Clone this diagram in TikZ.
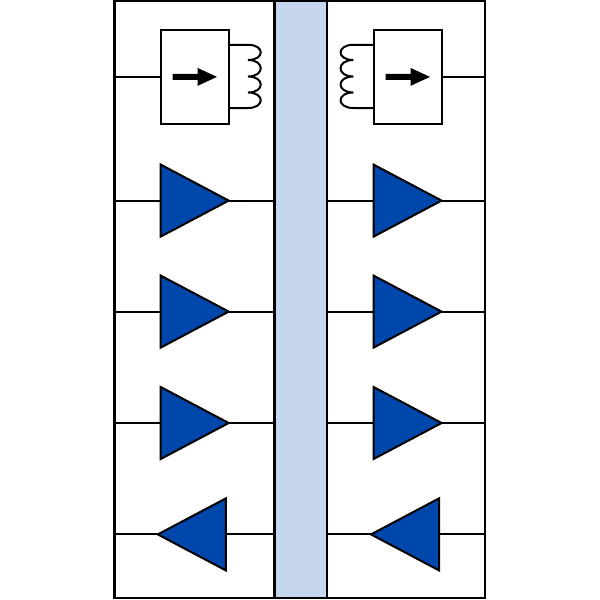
\documentclass[tikz,border=0pt]{standalone}
\usetikzlibrary{shapes.geometric}
\definecolor{bandblue}{HTML}{C6D6EE}
\definecolor{ampblue}{HTML}{0047AB}
\tikzset{
  wire/.style={draw=black,line width=2pt},
  frame/.style={draw=black,line width=2.4pt,fill=white,rectangle,inner sep=0pt,outer sep=0pt,minimum width=370.5pt,minimum height=597pt},
  band/.style={draw=black,line width=2.4pt,fill=bandblue,rectangle,inner sep=0pt,outer sep=0pt,minimum width=52.5pt,minimum height=597pt},
  ampbox/.style={draw=black,line width=2.2pt,fill=white,rectangle,inner sep=0pt,outer sep=0pt,minimum width=68.5pt,minimum height=93.5pt},
  ampR/.style={draw=black,line width=2pt,fill=ampblue,isosceles triangle,isosceles triangle stretches,inner sep=0pt,outer sep=0pt,minimum width=72pt,minimum height=68pt,anchor=apex,line join=miter},
  ampL/.style={ampR,shape border rotate=180},
  coil/.style={draw=black,line width=2pt},
  dirarrow/.style={fill=black}
}
\begin{document}
\begin{tikzpicture}[x=1pt,y=-1pt]
\useasboundingbox (0,0) rectangle (600,600);
\fill[white] (0,0) rectangle (600,600);
\node[frame] (frame) at (299.6,299.4) {};
\node[band] (band) at (300.6,299.4) {};
% boxes
\node[ampbox] (boxL) at (195,76.9) {};
\node[ampbox] (boxR) at (408,76.9) {};
% triangles
\node[ampR] (l1) at (228.7,200.6) {};
\node[ampR] (l2) at (228.7,311.6) {};
\node[ampR] (l3) at (228.7,423) {};
\node[ampL] (l4) at (157.8,534.4) {};
\node[ampR] (r1) at (441.6,200.6) {};
\node[ampR] (r2) at (441.6,311.6) {};
\node[ampR] (r3) at (441.6,423) {};
\node[ampL] (r4) at (371,534.4) {};
% wires
\draw[wire] (frame.west |- boxL.west) -- (boxL.west);
\draw[wire] (boxR.east) -- (frame.east |- boxR.east);
\foreach \n in {1,2,3}{
  \draw[wire] (frame.west |- l\n.apex) -- (l\n.lower side);
  \draw[wire] (l\n.apex) -- (band.west |- l\n.apex);
  \draw[wire] (band.east |- r\n.apex) -- (r\n.lower side);
  \draw[wire] (r\n.apex) -- (frame.east |- r\n.apex);
}
\draw[wire] (frame.west |- l4.apex) -- (l4.apex);
\draw[wire] (l4.lower side) -- (band.west |- l4.apex);
\draw[wire] (band.east |- r4.apex) -- (r4.apex);
\draw[wire] (r4.lower side) -- (frame.east |- r4.apex);
% coils
\draw[coil] (boxL.east |- 0,44.8) -- (248,44.8)
  .. controls (265,44.8) and (265,60) .. (248,60)
  .. controls (265,60) and (265,76.5) .. (248,76.5)
  .. controls (265,76.5) and (265,92.5) .. (248,92.5)
  .. controls (265,92.5) and (265,108) .. (248,108) -- (boxL.east |- 0,108);
\draw[coil] (boxR.west |- 0,44.8) -- (353.3,44.8)
  .. controls (336.3,44.8) and (336.3,60) .. (353.3,60)
  .. controls (336.3,60) and (336.3,76.5) .. (353.3,76.5)
  .. controls (336.3,76.5) and (336.3,92.5) .. (353.3,92.5)
  .. controls (336.3,92.5) and (336.3,108) .. (353.3,108) -- (boxR.west |- 0,108);
% direction arrows
\foreach \b in {boxL,boxR}{
  \fill[dirarrow,shift={(\b.center)}] (-22.5,-3) -- (2.5,-3) -- (2.5,-9) -- (22,0) -- (2.5,9) -- (2.5,3) -- (-22.5,3) -- cycle;
}
\end{tikzpicture}
\end{document}
